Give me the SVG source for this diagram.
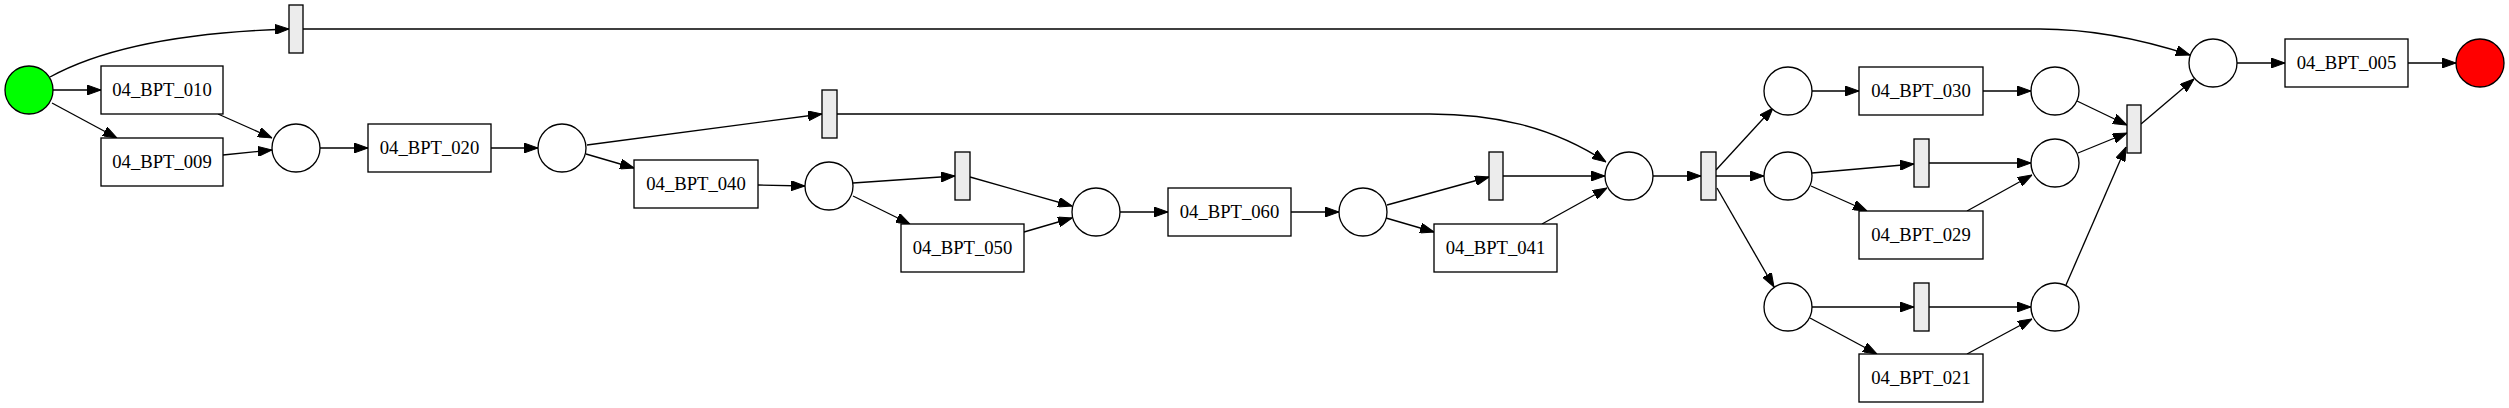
<svg xmlns="http://www.w3.org/2000/svg" width="2509" height="408" viewBox="0 0 2509 408">
<defs>
<marker id="ah" markerUnits="userSpaceOnUse" markerWidth="14" markerHeight="10" refX="14" refY="5" orient="auto" viewBox="0 0 14 10">
<path d="M0,0 L14,5 L0,10 z" fill="#000" stroke="#000" stroke-width="1"/>
</marker>
</defs>
<style>
.p{fill:#fff;stroke:#000;stroke-width:1.33}
.t{fill:#ececec;stroke:#000;stroke-width:1.33}
.b{fill:#fff;stroke:#000;stroke-width:1.33}
.e path{fill:none;stroke:#000;stroke-width:1.33;marker-end:url(#ah)}
text{font-family:"Liberation Serif","Times New Roman",serif;font-size:18.67px;text-anchor:middle;fill:#000}
</style>
<rect width="2509" height="408" fill="#fff"/>
<g id="connectors" class="e">
<path d="M50,77 C90,55 160,33 289,29"/>
<path d="M303,29 L2040,29 C2100,29 2150,42 2190,55"/>
<path d="M53,90 L101,90"/>
<path d="M52,103 L117,138"/>
<path d="M218,114 L272,138"/>
<path d="M223,155 L272,150"/>
<path d="M320,148 L368,148"/>
<path d="M491,148 L538,148"/>
<path d="M587,145 L822,114"/>
<path d="M586,154 L634,168"/>
<path d="M837,114 L1430,114 C1490,114 1550,125 1606,162"/>
<path d="M758,185 L805,186"/>
<path d="M853,183 L955,176"/>
<path d="M853,196 L910,224"/>
<path d="M970,177 L1072,206"/>
<path d="M1024,232 L1072,218"/>
<path d="M1120,212 L1168,212"/>
<path d="M1291,212 L1339,212"/>
<path d="M1387,205 L1489,177"/>
<path d="M1386,218 L1434,232"/>
<path d="M1503,176 L1605,176"/>
<path d="M1542,224 L1607,188"/>
<path d="M1653,176 L1701,176"/>
<path d="M1716,170 L1773,108"/>
<path d="M1716,176 L1764,176"/>
<path d="M1717,188 L1774,287"/>
<path d="M1812,91 L1859,91"/>
<path d="M1983,91 L2031,91"/>
<path d="M1812,173 L1914,164"/>
<path d="M1811,186 L1867,211"/>
<path d="M1929,163 L2031,163"/>
<path d="M1967,211 L2032,175"/>
<path d="M1812,307 L1914,307"/>
<path d="M1810,318 L1877,354"/>
<path d="M1929,307 L2031,307"/>
<path d="M1967,354 L2032,319"/>
<path d="M2077,101 L2127,125"/>
<path d="M2078,153 L2127,133"/>
<path d="M2066,285 L2126,147"/>
<path d="M2141,124 L2194,79"/>
<path d="M2237,63 L2285,63"/>
<path d="M2408,63 L2456,63"/>
</g>
<g id="start"><circle cx="29" cy="90" r="24" class="p" style="fill:#00ff00"/></g>
<g id="t0"><rect x="289" y="5" width="14" height="48" class="t"/></g>
<g id="n010"><rect x="101" y="66" width="122" height="48" class="b"/><text x="162" y="96">04_BPT_010</text></g>
<g id="n009"><rect x="101" y="138" width="122" height="48" class="b"/><text x="162" y="168">04_BPT_009</text></g>
<g id="p1"><circle cx="296" cy="148" r="24" class="p"/></g>
<g id="n020"><rect x="368" y="124" width="123" height="48" class="b"/><text x="429.5" y="154">04_BPT_020</text></g>
<g id="p2"><circle cx="562" cy="148" r="24" class="p"/></g>
<g id="t2"><rect x="822" y="90" width="15" height="48" class="t"/></g>
<g id="n040"><rect x="634" y="160" width="124" height="48" class="b"/><text x="696" y="190">04_BPT_040</text></g>
<g id="p3"><circle cx="829" cy="186" r="24" class="p"/></g>
<g id="t3"><rect x="955" y="152" width="15" height="48" class="t"/></g>
<g id="n050"><rect x="901" y="224" width="123" height="48" class="b"/><text x="962.5" y="254">04_BPT_050</text></g>
<g id="p4"><circle cx="1096" cy="212" r="24" class="p"/></g>
<g id="n060"><rect x="1168" y="188" width="123" height="48" class="b"/><text x="1229.5" y="218">04_BPT_060</text></g>
<g id="p5"><circle cx="1363" cy="212" r="24" class="p"/></g>
<g id="t4"><rect x="1489" y="152" width="14" height="48" class="t"/></g>
<g id="n041"><rect x="1434" y="224" width="123" height="48" class="b"/><text x="1495.5" y="254">04_BPT_041</text></g>
<g id="p6"><circle cx="1629" cy="176" r="24" class="p"/></g>
<g id="t5"><rect x="1701" y="152" width="15" height="48" class="t"/></g>
<g id="p7"><circle cx="1788" cy="91" r="24" class="p"/></g>
<g id="p8"><circle cx="1788" cy="176" r="24" class="p"/></g>
<g id="p9"><circle cx="1788" cy="307" r="24" class="p"/></g>
<g id="n030"><rect x="1859" y="67" width="124" height="48" class="b"/><text x="1921" y="97">04_BPT_030</text></g>
<g id="t6"><rect x="1914" y="139" width="15" height="48" class="t"/></g>
<g id="n029"><rect x="1859" y="211" width="124" height="48" class="b"/><text x="1921" y="241">04_BPT_029</text></g>
<g id="t7"><rect x="1914" y="283" width="15" height="48" class="t"/></g>
<g id="n021"><rect x="1859" y="354" width="124" height="48" class="b"/><text x="1921" y="384">04_BPT_021</text></g>
<g id="p10"><circle cx="2055" cy="91" r="24" class="p"/></g>
<g id="p11"><circle cx="2055" cy="163" r="24" class="p"/></g>
<g id="p12"><circle cx="2055" cy="307" r="24" class="p"/></g>
<g id="t8"><rect x="2127" y="105" width="14" height="48" class="t"/></g>
<g id="p13"><circle cx="2213" cy="63" r="24" class="p"/></g>
<g id="n005"><rect x="2285" y="39" width="123" height="48" class="b"/><text x="2346.5" y="69">04_BPT_005</text></g>
<g id="end"><circle cx="2480" cy="63" r="24" class="p" style="fill:#ff0000"/></g>
</svg>
